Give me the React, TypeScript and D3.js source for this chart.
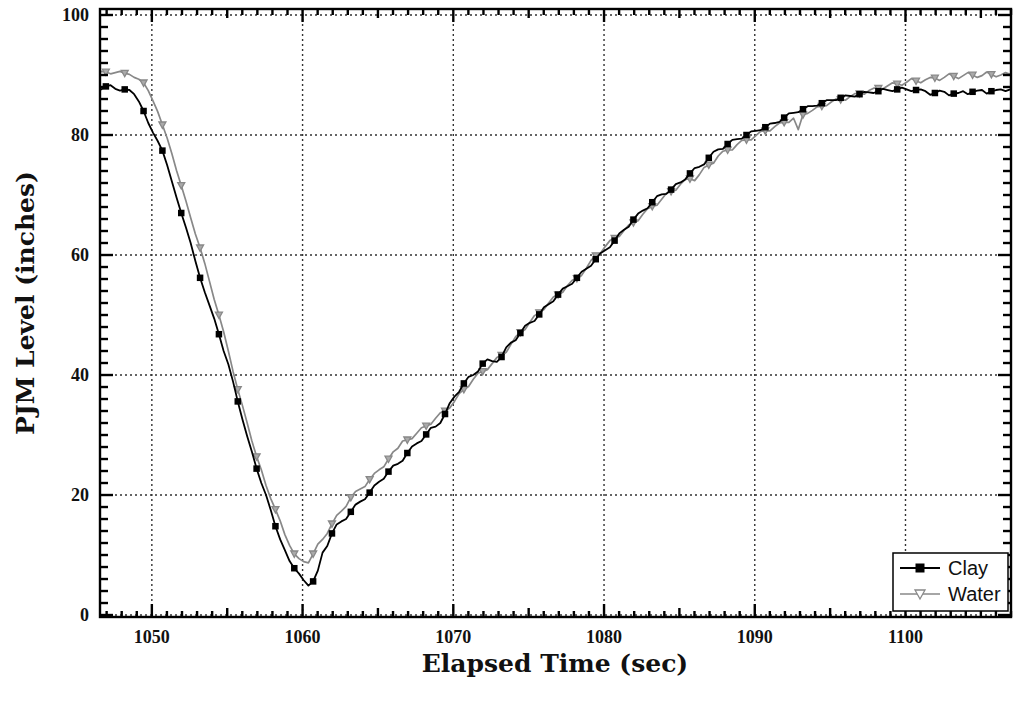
import React from "react";
import * as d3 from "d3";

const T_START = 1046.325;
const T_STEP = 0.3125;

const clayValues = [
  88.0, 87.6, 88.1, 88.3, 87.7, 87.4, 87.6, 87.5, 86.8, 85.6,
  84.0, 82.0, 80.4, 79.0, 77.4, 75.0, 72.3, 69.6, 67.0, 64.6,
  62.0, 59.0, 56.2, 53.8, 51.6, 49.4, 46.8, 44.0, 41.8, 38.9,
  35.6, 32.6, 29.8, 27.2, 24.4, 22.0, 20.0, 17.5, 14.8, 12.6,
  10.8, 9.0, 7.8, 6.9, 5.8, 4.9, 5.6, 7.4, 10.4, 11.5,
  13.6, 15.1, 15.6, 16.0, 17.2, 18.4, 18.9, 19.3, 20.4, 21.6,
  22.2, 22.7, 23.9, 24.9, 25.2, 25.7, 27.0, 28.1, 28.6, 29.0,
  30.1, 31.2, 31.4, 32.0, 33.5, 35.3, 36.4, 37.2, 38.6, 39.7,
  40.0, 40.6, 41.9, 42.6, 42.3, 42.2, 43.0, 44.6, 45.4, 45.8,
  47.0, 48.2, 48.7, 49.0, 50.1, 51.3, 51.8, 52.3, 53.4, 54.4,
  54.8, 55.2, 56.2, 57.2, 57.7, 58.2, 59.3, 60.3, 60.8, 61.3,
  62.4, 63.6, 64.2, 64.7, 65.9, 66.9, 67.4, 67.8, 68.8, 69.8,
  70.1, 70.2, 70.9, 71.8, 72.1, 72.6, 73.6, 74.5, 74.7, 75.1,
  76.2, 77.2, 77.6, 77.7, 78.5, 79.2, 79.3, 79.4, 80.0, 80.6,
  80.7, 80.8, 81.3, 81.9, 82.0, 82.2, 82.9, 83.6, 83.7, 83.8,
  84.3, 84.8, 84.8, 84.9, 85.3, 85.8, 85.8, 85.8, 86.2, 86.6,
  86.5, 86.4, 86.8, 87.2, 87.1, 87.0, 87.3, 87.7, 87.5, 87.3,
  87.6, 87.9, 87.6, 87.3, 87.5, 87.6, 87.3, 86.7, 87.0, 87.4,
  87.2, 86.6, 86.9, 87.0, 87.3, 86.8, 87.2, 87.4, 87.5, 86.9,
  87.3, 87.5, 87.6, 87.3, 87.6, 87.7, 87.6,
];

const waterValues = [
  90.3, 90.6, 90.5, 90.2, 90.4, 90.6, 90.3, 90.1, 89.6, 89.3,
  88.7, 87.4, 85.7, 83.9, 81.7, 79.5, 76.9, 74.1, 71.6, 69.0,
  66.2, 63.5, 61.2, 58.6, 55.6, 52.6, 50.0, 47.2, 44.0, 40.6,
  37.6, 34.9, 32.0, 29.0, 26.4, 24.2, 21.6, 19.4, 17.6, 15.7,
  13.4, 11.6, 10.2, 9.4, 8.9, 8.7, 10.2, 11.8, 12.6, 13.6,
  15.2, 16.6, 17.3, 18.1, 19.6, 20.6, 21.0, 21.4, 22.6, 23.6,
  24.2, 24.7, 26.0, 27.2, 27.8, 29.0, 29.2, 29.4, 30.3, 31.2,
  31.5, 31.8, 32.8, 33.7, 34.0, 34.5, 35.6, 36.9, 37.6, 38.1,
  39.3, 40.3, 40.6, 40.9, 41.9, 42.9, 43.3, 43.8, 45.1, 46.4,
  47.1, 47.6, 48.8, 49.9, 50.4, 50.9, 52.0, 53.0, 53.4, 53.8,
  54.9, 55.8, 56.1, 56.6, 57.8, 59.1, 59.9, 60.3, 61.4, 62.4,
  62.8, 63.1, 64.1, 65.0, 65.4, 65.7, 66.8, 67.7, 68.1, 68.3,
  69.3, 70.3, 70.6, 70.8, 71.8, 72.6, 72.7, 72.4, 73.4, 74.6,
  75.0, 75.3, 76.5, 77.3, 77.5, 77.5, 78.4, 79.1, 79.2, 79.2,
  79.9, 80.6, 80.7, 80.7, 81.4, 82.0, 82.1, 82.1, 82.8, 80.9,
  83.4, 83.6, 84.1, 84.7, 84.8, 84.9, 85.5, 86.0, 85.9, 85.8,
  86.4, 86.9, 86.9, 86.8, 87.4, 87.8, 87.8, 87.7, 88.2, 88.7,
  88.5, 88.3, 88.8, 89.4, 89.0, 88.7, 89.2, 89.6, 89.5, 89.1,
  89.6, 90.2, 89.8, 89.4, 89.9, 90.4, 90.0, 89.6, 89.9, 90.5,
  90.1, 89.7, 90.0, 90.4, 90.1, 89.8, 90.0,
];

const xTicks = [1050, 1060, 1070, 1080, 1090, 1100];
const yTicks = [0, 20, 40, 60, 80, 100];
const seriesNames = ["Clay", "Water"];
const xTitle = "Elapsed Time (sec)";
const yTitle = "PJM Level (inches)";

export default function App() {
  const W = 1013;
  const H = 702;
  const left = 100, right = 1011, top = 9, bottom = 617;
  const x = d3.scaleLinear().domain([1046.56, 1107.0]).range([left, right]);
  const y = d3.scaleLinear().domain([-0.33, 101]).range([bottom, top]);

  const toPts = (vals: number[]) => vals.map((v, i) => [T_START + i * T_STEP, v] as [number, number]);
  const clayPts = toPts(clayValues);
  const waterPts = toPts(waterValues);
  const line = d3.line<[number, number]>().x((d) => x(d[0])).y((d) => y(d[1]));

  const markerFilter = (pts: [number, number][]) =>
    pts.filter((p, i) => i % 4 === 2 && p[0] > 1046.7 && p[0] < 1106.8);

  const xMinor = d3.range(1047, 1108, 1);
  const yMinor = d3.range(0, 101, 2);
  const tickLenX = (v: number) => (v % 10 === 0 ? 13 : v % 5 === 0 ? 9 : 6);
  const tickLenY = (v: number) => (v % 20 === 0 ? 13 : 8);

  const serif = "'Liberation Serif', 'Times New Roman', serif";
  const titleFont = "'DejaVu Serif', serif";
  const sans = "'Liberation Sans', Arial, sans-serif";

  const square = (cx: number, cy: number, s: number, key: string) => (
    <rect key={key} x={cx - s / 2} y={cy - s / 2} width={s} height={s} fill="#000" />
  );
  const tri = (cx: number, cy: number, s: number, key: string, fill: string) => (
    <path
      key={key}
      d={`M${cx - s / 2},${cy - s * 0.4} L${cx + s / 2},${cy - s * 0.4} L${cx},${cy + s * 0.5} Z`}
      fill={fill}
      stroke="#888"
      strokeWidth={1.3}
    />
  );

  const tw = 2.4;

  return (
    <svg width={W} height={H} style={{ position: "absolute", left: 0, top: 0, background: "#fff" }}>
      <defs>
        <clipPath id="plotClip">
          <rect x={left} y={top} width={right - left} height={bottom - top} />
        </clipPath>
      </defs>
      <rect x={0} y={0} width={W} height={H} fill="#fff" />

      {/* grid */}
      {xTicks.map((v) => (
        <line key={"gx" + v} x1={x(v)} x2={x(v)} y1={top} y2={bottom} stroke="#333" strokeWidth={1.4} strokeDasharray="2,3" />
      ))}
      {yTicks.map((v) => (
        <line key={"gy" + v} x1={left} x2={right} y1={y(v)} y2={y(v)} stroke="#333" strokeWidth={1.4} strokeDasharray="2,3" />
      ))}

      {/* series */}
      <g clipPath="url(#plotClip)">
        <path d={line(waterPts) || ""} fill="none" stroke="#888" strokeWidth={1.7} strokeLinejoin="round" />
        {markerFilter(waterPts).map((d, i) => tri(x(d[0]), y(d[1]), 7, "wm" + i, "#aaa"))}
        <path d={line(clayPts) || ""} fill="none" stroke="#000" strokeWidth={1.8} strokeLinejoin="round" />
        {markerFilter(clayPts).map((d, i) => square(x(d[0]), y(d[1]), 6.5, "cm" + i))}
      </g>

      {/* frame */}
      <rect x={left} y={top} width={right - left} height={bottom - top} fill="none" stroke="#000" strokeWidth={2.4} />

      {/* ticks */}
      <g fill="#000">
        {xMinor.map((v) => (
          <rect key={"bx" + v} x={x(v) - tw / 2} y={bottom - tickLenX(v)} width={tw} height={tickLenX(v)} />
        ))}
        {xMinor.map((v) => (
          <rect key={"tx" + v} x={x(v) - tw / 2} y={top} width={tw} height={tickLenX(v)} />
        ))}
        {yMinor.map((v) => (
          <rect key={"lt" + v} x={left} y={y(v) - tw / 2} width={tickLenY(v)} height={tw} />
        ))}
        {yMinor.map((v) => (
          <rect key={"rt" + v} x={right - tickLenY(v)} y={y(v) - tw / 2} width={tickLenY(v)} height={tw} />
        ))}
      </g>

      {/* tick labels */}
      {xTicks.map((v) => (
        <text key={"lx" + v} x={x(v)} y={643} textAnchor="middle" fontFamily={serif} fontWeight="bold" fontSize={18} fill="#111">
          {v}
        </text>
      ))}
      {yTicks.map((v) => (
        <text key={"lyl" + v} x={89} y={y(v) + 6} textAnchor="end" fontFamily={serif} fontWeight="bold" fontSize={18} fill="#111">
          {v}
        </text>
      ))}

      {/* axis titles */}
      <text x={555} y={672} textAnchor="middle" fontFamily={titleFont} fontWeight="bold" fontSize={25} fill="#111">
        {xTitle}
      </text>
      <text
        transform={`translate(34,${303}) rotate(-90)`}
        textAnchor="middle"
        fontFamily={titleFont}
        fontWeight="bold"
        fontSize={25}
        fill="#111"
      >
        {yTitle}
      </text>

      {/* legend */}
      <g>
        <rect x={893} y={553} width={115} height={58} fill="#fff" stroke="#000" strokeWidth={1.5} />
        <line x1={900} x2={940} y1={568} y2={568} stroke="#000" strokeWidth={1.8} />
        {square(920, 568, 9, "lg0")}
        <text x={948} y={575} fontFamily={sans} fontSize={20} fill="#111">{seriesNames[0]}</text>
        <line x1={900} x2={940} y1={594} y2={594} stroke="#888" strokeWidth={1.7} />
        {tri(920, 594, 10, "lg1", "#fff")}
        <text x={948} y={601} fontFamily={sans} fontSize={20} fill="#111">{seriesNames[1]}</text>
      </g>
    </svg>
  );
}
